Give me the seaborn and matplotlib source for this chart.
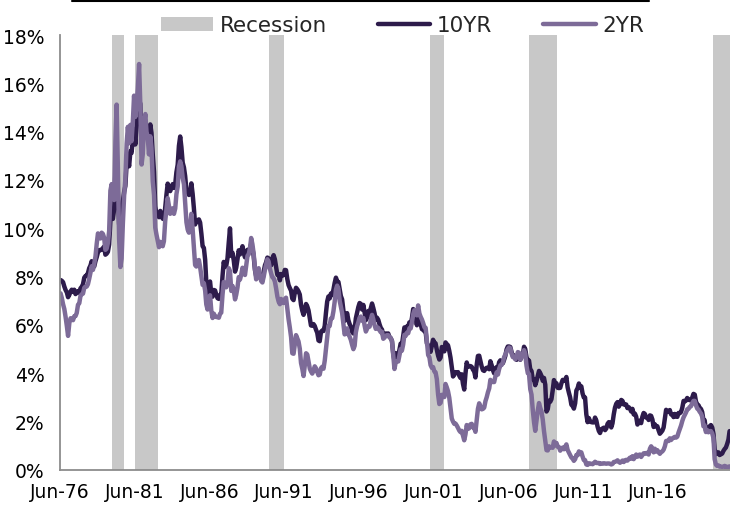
import pandas as pd
import matplotlib.pyplot as plt
from matplotlib.lines import Line2D
from matplotlib.patches import Patch
import seaborn as sns

# monthly yields (%), Jun-1976 .. Mar-2021
first_month = "1976-06"
yield_10yr = [
    7.86, 7.83, 7.77, 7.59, 7.45, 7.35, 7.15,
    7.25, 7.39, 7.46, 7.37, 7.46, 7.28, 7.33, 7.40, 7.34, 7.52, 7.58, 7.69,
    7.96, 8.03, 8.04, 8.15, 8.35, 8.46, 8.64, 8.41, 8.42, 8.64, 8.81, 9.01,
    9.10, 9.10, 9.12, 9.18, 9.25, 8.91, 8.95, 9.03, 9.33, 10.30, 10.65, 10.39,
    10.80, 12.41, 12.75, 11.47, 10.18, 9.78, 10.25, 11.10, 11.51, 11.75, 12.68, 12.84,
    12.57, 13.19, 13.12, 13.68, 14.10, 13.47, 14.28, 14.94, 15.32, 15.15, 13.39, 13.72,
    14.59, 14.43, 13.86, 13.87, 13.62, 14.30, 13.95, 13.06, 12.34, 10.91, 10.55, 10.54,
    10.46, 10.72, 10.51, 10.40, 10.38, 10.85, 11.38, 11.85, 11.65, 11.54, 11.69, 11.83,
    11.67, 11.84, 12.32, 12.63, 13.41, 13.80, 13.36, 12.72, 12.52, 12.16, 11.57, 11.50,
    11.38, 11.51, 11.86, 11.43, 10.85, 10.16, 10.31, 10.33, 10.37, 10.24, 9.78, 9.26,
    9.19, 8.70, 7.78, 7.30, 7.71, 7.80, 7.30, 7.17, 7.45, 7.43, 7.25, 7.11,
    7.08, 7.25, 7.25, 8.02, 8.61, 8.40, 8.45, 8.76, 9.42, 10.00, 8.86, 8.99,
    8.67, 8.21, 8.37, 8.72, 9.09, 8.92, 9.06, 9.26, 8.98, 8.80, 8.96, 9.11,
    9.09, 9.17, 9.36, 9.18, 8.86, 8.28, 8.02, 8.11, 8.19, 8.01, 7.87, 7.84,
    8.21, 8.47, 8.59, 8.79, 8.76, 8.48, 8.47, 8.75, 8.89, 8.72, 8.39, 8.08,
    8.09, 7.85, 8.11, 8.04, 8.07, 8.28, 8.27, 7.90, 7.65, 7.53, 7.42, 7.09,
    7.03, 7.34, 7.54, 7.48, 7.39, 7.26, 6.84, 6.59, 6.42, 6.59, 6.87, 6.77,
    6.60, 6.26, 5.98, 5.97, 6.04, 5.96, 5.81, 5.68, 5.36, 5.33, 5.72, 5.77,
    5.75, 5.97, 6.48, 6.97, 7.18, 7.10, 7.30, 7.24, 7.46, 7.74, 7.96, 7.81,
    7.78, 7.47, 7.20, 7.06, 6.63, 6.17, 6.28, 6.49, 6.20, 6.04, 5.93, 5.71,
    5.65, 5.81, 6.27, 6.51, 6.74, 6.91, 6.87, 6.64, 6.83, 6.53, 6.20, 6.30,
    6.58, 6.42, 6.69, 6.89, 6.71, 6.49, 6.22, 6.30, 6.21, 6.03, 5.88, 5.81,
    5.54, 5.57, 5.65, 5.64, 5.65, 5.50, 5.46, 5.34, 4.81, 4.53, 4.83, 4.65,
    4.72, 5.00, 5.23, 5.18, 5.54, 5.90, 5.79, 5.94, 5.92, 6.11, 6.03, 6.28,
    6.66, 6.52, 6.26, 5.99, 6.44, 6.10, 6.05, 5.83, 5.80, 5.74, 5.72, 5.24,
    5.16, 5.10, 4.89, 5.14, 5.39, 5.28, 5.24, 4.97, 4.73, 4.57, 4.65, 5.09,
    5.04, 4.91, 5.28, 5.21, 5.16, 4.93, 4.65, 4.26, 3.87, 3.94, 4.05, 4.03,
    4.05, 3.90, 3.81, 3.96, 3.57, 3.33, 3.98, 4.45, 4.27, 4.29, 4.30, 4.27,
    4.15, 4.08, 3.83, 4.35, 4.72, 4.73, 4.50, 4.28, 4.13, 4.10, 4.19, 4.23,
    4.22, 4.17, 4.50, 4.34, 4.14, 4.00, 4.18, 4.26, 4.20, 4.46, 4.54, 4.47,
    4.42, 4.57, 4.72, 4.99, 5.11, 5.11, 5.09, 4.88, 4.72, 4.73, 4.60, 4.56,
    4.76, 4.72, 4.56, 4.69, 4.75, 5.10, 5.00, 4.67, 4.52, 4.53, 4.15, 4.10,
    3.74, 3.74, 3.51, 3.68, 3.88, 4.10, 4.01, 3.89, 3.69, 3.81, 3.53, 2.42,
    2.52, 2.87, 2.82, 2.93, 3.29, 3.72, 3.56, 3.59, 3.40, 3.39, 3.40, 3.59,
    3.73, 3.69, 3.73, 3.85, 3.42, 3.20, 3.01, 2.70, 2.65, 2.54, 2.76, 3.29,
    3.39, 3.58, 3.41, 3.46, 3.17, 3.00, 3.00, 2.30, 1.98, 2.15, 2.01, 1.98,
    1.97, 1.97, 2.17, 2.05, 1.80, 1.62, 1.53, 1.68, 1.72, 1.75, 1.65, 1.72,
    1.91, 1.98, 1.96, 1.76, 1.93, 2.30, 2.58, 2.74, 2.81, 2.62, 2.72, 2.90,
    2.86, 2.71, 2.72, 2.71, 2.56, 2.60, 2.54, 2.42, 2.53, 2.30, 2.33, 2.21,
    1.88, 1.98, 2.04, 1.94, 2.20, 2.36, 2.32, 2.17, 2.17, 2.07, 2.26, 2.24,
    2.09, 1.78, 1.89, 1.81, 1.81, 1.64, 1.50, 1.56, 1.63, 1.76, 2.14, 2.49,
    2.43, 2.42, 2.48, 2.30, 2.30, 2.19, 2.32, 2.21, 2.20, 2.36, 2.35, 2.40,
    2.58, 2.86, 2.84, 2.87, 2.98, 2.91, 2.89, 2.89, 3.00, 3.15, 3.12, 2.83,
    2.71, 2.68, 2.57, 2.53, 2.40, 2.07, 2.06, 1.63, 1.70, 1.71, 1.81, 1.86,
    1.76, 1.50, 0.87, 0.66, 0.67, 0.73, 0.62, 0.65, 0.68, 0.79, 0.87, 0.93,
    1.08, 1.26, 1.61,
]
yield_2yr = [
    7.31, 7.12, 6.86, 6.66, 6.34, 5.96, 5.55,
    6.08, 6.28, 6.26, 6.20, 6.36, 6.37, 6.50, 6.84, 6.90, 7.21, 7.27, 7.30,
    7.54, 7.59, 7.59, 7.69, 7.91, 8.16, 8.43, 8.28, 8.53, 8.83, 9.36, 9.79,
    9.71, 9.58, 9.82, 9.77, 9.61, 9.11, 9.16, 9.40, 9.89, 11.56, 11.83, 11.46,
    11.17, 13.61, 15.12, 12.47, 9.56, 8.40, 8.75, 10.21, 11.36, 12.05, 13.50, 14.20,
    13.52, 14.28, 13.61, 14.39, 15.49, 14.61, 15.09, 15.79, 16.80, 15.13, 12.64, 13.08,
    14.35, 14.73, 14.00, 13.74, 13.06, 13.81, 13.32, 11.95, 11.38, 10.03, 9.73, 9.47,
    9.22, 9.44, 9.31, 9.26, 9.47, 10.30, 10.75, 11.25, 10.92, 10.60, 10.72, 10.83,
    10.60, 10.82, 11.41, 11.73, 12.55, 12.77, 12.57, 12.09, 11.82, 11.08, 10.25, 9.95,
    9.82, 10.12, 10.60, 9.97, 9.24, 8.48, 8.42, 8.66, 8.69, 8.40, 8.04, 7.66,
    7.73, 7.42, 6.85, 6.64, 7.14, 7.23, 6.60, 6.29, 6.47, 6.35, 6.33, 6.33,
    6.30, 6.47, 6.51, 7.25, 7.78, 7.69, 7.56, 7.78, 8.35, 8.23, 7.41, 7.62,
    7.44, 7.06, 7.25, 7.55, 7.98, 7.88, 8.08, 8.37, 8.25, 8.07, 8.48, 8.86,
    8.93, 9.19, 9.60, 9.34, 8.95, 8.36, 7.89, 8.10, 8.35, 8.04, 7.82, 7.76,
    8.00, 8.28, 8.49, 8.72, 8.63, 8.34, 8.14, 7.98, 7.93, 7.80, 7.51, 7.18,
    6.97, 6.86, 7.08, 7.00, 6.91, 7.07, 7.13, 6.68, 6.24, 5.90, 5.50, 4.83,
    4.81, 5.20, 5.58, 5.45, 5.32, 5.02, 4.43, 4.19, 3.89, 4.32, 4.83, 4.78,
    4.48, 4.19, 4.08, 3.99, 4.10, 4.29, 4.21, 4.07, 3.92, 3.95, 4.21, 4.27,
    4.19, 4.53, 5.00, 5.48, 5.97, 5.96, 6.27, 6.28, 6.57, 6.96, 7.46, 7.63,
    7.49, 7.00, 6.76, 6.50, 6.06, 5.61, 5.70, 5.86, 5.61, 5.52, 5.38, 5.18,
    5.00, 5.14, 5.69, 5.95, 6.11, 6.30, 6.35, 6.18, 6.29, 5.98, 5.73, 5.84,
    5.96, 5.93, 6.22, 6.42, 6.24, 6.00, 5.84, 5.91, 5.88, 5.78, 5.70, 5.72,
    5.43, 5.48, 5.55, 5.58, 5.58, 5.50, 5.46, 5.34, 4.76, 4.18, 4.47, 4.50,
    4.49, 4.76, 5.00, 4.94, 5.19, 5.59, 5.55, 5.68, 5.66, 5.86, 5.86, 6.10,
    6.44, 6.61, 6.53, 6.40, 6.81, 6.48, 6.34, 6.23, 6.08, 5.91, 5.88, 5.35,
    4.76, 4.66, 4.34, 4.23, 4.26, 4.08, 4.04, 3.76, 3.12, 2.73, 2.78, 3.11,
    3.03, 3.02, 3.56, 3.42, 3.26, 2.99, 2.56, 2.13, 2.00, 1.91, 1.92, 1.84,
    1.74, 1.63, 1.57, 1.62, 1.42, 1.23, 1.47, 1.86, 1.70, 1.73, 1.89, 1.91,
    1.76, 1.74, 1.58, 2.07, 2.53, 2.76, 2.64, 2.51, 2.53, 2.58, 2.85, 3.01,
    3.22, 3.38, 3.73, 3.65, 3.64, 3.64, 3.87, 4.04, 3.95, 4.18, 4.33, 4.35,
    4.45, 4.68, 4.77, 4.90, 5.00, 5.07, 5.04, 4.82, 4.67, 4.69, 4.58, 4.67,
    4.88, 4.85, 4.57, 4.67, 4.77, 4.96, 4.82, 4.31, 4.01, 3.97, 3.34, 3.12,
    2.48, 1.97, 1.62, 2.05, 2.45, 2.77, 2.57, 2.42, 2.08, 1.61, 1.21, 0.82,
    0.81, 0.98, 0.93, 0.93, 0.92, 1.18, 1.02, 1.12, 0.96, 0.95, 0.80, 0.87,
    0.93, 0.86, 0.96, 1.06, 0.83, 0.72, 0.62, 0.52, 0.47, 0.38, 0.45, 0.62,
    0.61, 0.77, 0.70, 0.73, 0.56, 0.41, 0.41, 0.23, 0.21, 0.28, 0.25, 0.26,
    0.24, 0.28, 0.34, 0.29, 0.29, 0.29, 0.25, 0.27, 0.26, 0.28, 0.27, 0.26,
    0.27, 0.27, 0.26, 0.23, 0.25, 0.33, 0.34, 0.36, 0.40, 0.34, 0.30, 0.34,
    0.39, 0.33, 0.40, 0.42, 0.39, 0.45, 0.51, 0.47, 0.57, 0.45, 0.53, 0.64,
    0.55, 0.62, 0.64, 0.54, 0.61, 0.69, 0.67, 0.70, 0.71, 0.64, 0.88, 0.98,
    0.90, 0.73, 0.88, 0.77, 0.82, 0.73, 0.67, 0.74, 0.77, 0.84, 0.98, 1.20,
    1.21, 1.20, 1.31, 1.24, 1.30, 1.34, 1.37, 1.34, 1.38, 1.55, 1.70, 1.84,
    2.03, 2.18, 2.28, 2.38, 2.51, 2.53, 2.61, 2.64, 2.77, 2.86, 2.86, 2.68,
    2.54, 2.50, 2.41, 2.34, 2.21, 1.81, 1.84, 1.57, 1.65, 1.56, 1.61, 1.61,
    1.52, 1.33, 0.45, 0.22, 0.17, 0.19, 0.14, 0.14, 0.13, 0.14, 0.17, 0.13,
    0.13, 0.12, 0.15,
]

# shaded recession bands as drawn in the chart
recession_start = ["1979-11-15", "1981-06-05", "1990-05-20", "2001-02-25", "2007-10-10", "2020-01-25"]
recession_end = ["1980-09-15", "1982-12-20", "1991-05-20", "2002-02-01", "2009-08-20", "2021-04-30"]

tick_dates = ["1976-06-01", "1981-06-01", "1986-06-01", "1991-06-01", "1996-06-01",
              "2001-06-01", "2006-06-01", "2011-06-01", "2016-06-01"]
tick_labels = ["Jun-76", "Jun-81", "Jun-86", "Jun-91", "Jun-96",
               "Jun-01", "Jun-06", "Jun-11", "Jun-16"]
y_ticks = [0, 2, 4, 6, 8, 10, 12, 14, 16, 18]

colors = {"10YR": "#2d1b4b", "2YR": "#7d6b98"}
rec_color = "#c8c8c8"

sns.set_style("white")
plt.rcParams["font.family"] = ["DejaVu Sans"]

dates = pd.date_range(first_month, periods=len(yield_10yr), freq="MS") + pd.Timedelta(days=14)
df = pd.concat([
    pd.DataFrame({"date": dates, "rate": yield_10yr, "series": "10YR"}),
    pd.DataFrame({"date": dates, "rate": yield_2yr, "series": "2YR"}),
])

fig = plt.figure(figsize=(7.3, 5.06), dpi=100)
ax = fig.add_axes([60 / 730, 35 / 506, 1 - 60 / 730, 435 / 506])

for s, e in zip(recession_start, recession_end):
    ax.axvspan(pd.Timestamp(s), pd.Timestamp(e), color=rec_color, lw=0, zorder=0)

sns.lineplot(data=df, x="date", y="rate", hue="series", palette=colors,
             linewidth=3.2, legend=False, ax=ax)

ax.set_xlim(pd.Timestamp("1976-06-01"), pd.Timestamp("2021-03-25"))
ax.set_ylim(0, 18)
ax.set_xticks([pd.Timestamp(d) for d in tick_dates])
ax.set_xticklabels(tick_labels)
ax.set_yticks(y_ticks)
ax.set_yticklabels([f"{v}%" for v in y_ticks])
ax.set_xlabel("")
ax.set_ylabel("")

for side in ["top", "right"]:
    ax.spines[side].set_visible(False)
for side in ["left", "bottom"]:
    ax.spines[side].set_color("#8c8c8c")
    ax.spines[side].set_linewidth(1.3)
ax.tick_params(axis="both", which="major", direction="out", length=5, width=1.3,
               color="#8c8c8c", labelsize=13.5, labelcolor="black")
ax.tick_params(axis="x", pad=4)
ax.tick_params(axis="y", pad=6)

handles = [
    Patch(facecolor=rec_color, edgecolor="none"),
    Line2D([0], [0], color=colors["10YR"], lw=3.2),
    Line2D([0], [0], color=colors["2YR"], lw=3.2),
]
fig.legend(handles, ["Recession", "10YR", "2YR"], loc="center",
           bbox_to_anchor=(0.551, 0.948), ncol=3, frameon=False,
           fontsize=15.5, handlelength=2.45, handleheight=0.65,
           handletextpad=0.3, columnspacing=2.35, borderaxespad=0)

# underline of the clipped heading
fig.add_artist(Line2D([72 / 730, 649 / 730], [1 - 2 / 506, 1 - 2 / 506],
                      color="black", lw=1.5))

fig.savefig("out.png", dpi=100)
